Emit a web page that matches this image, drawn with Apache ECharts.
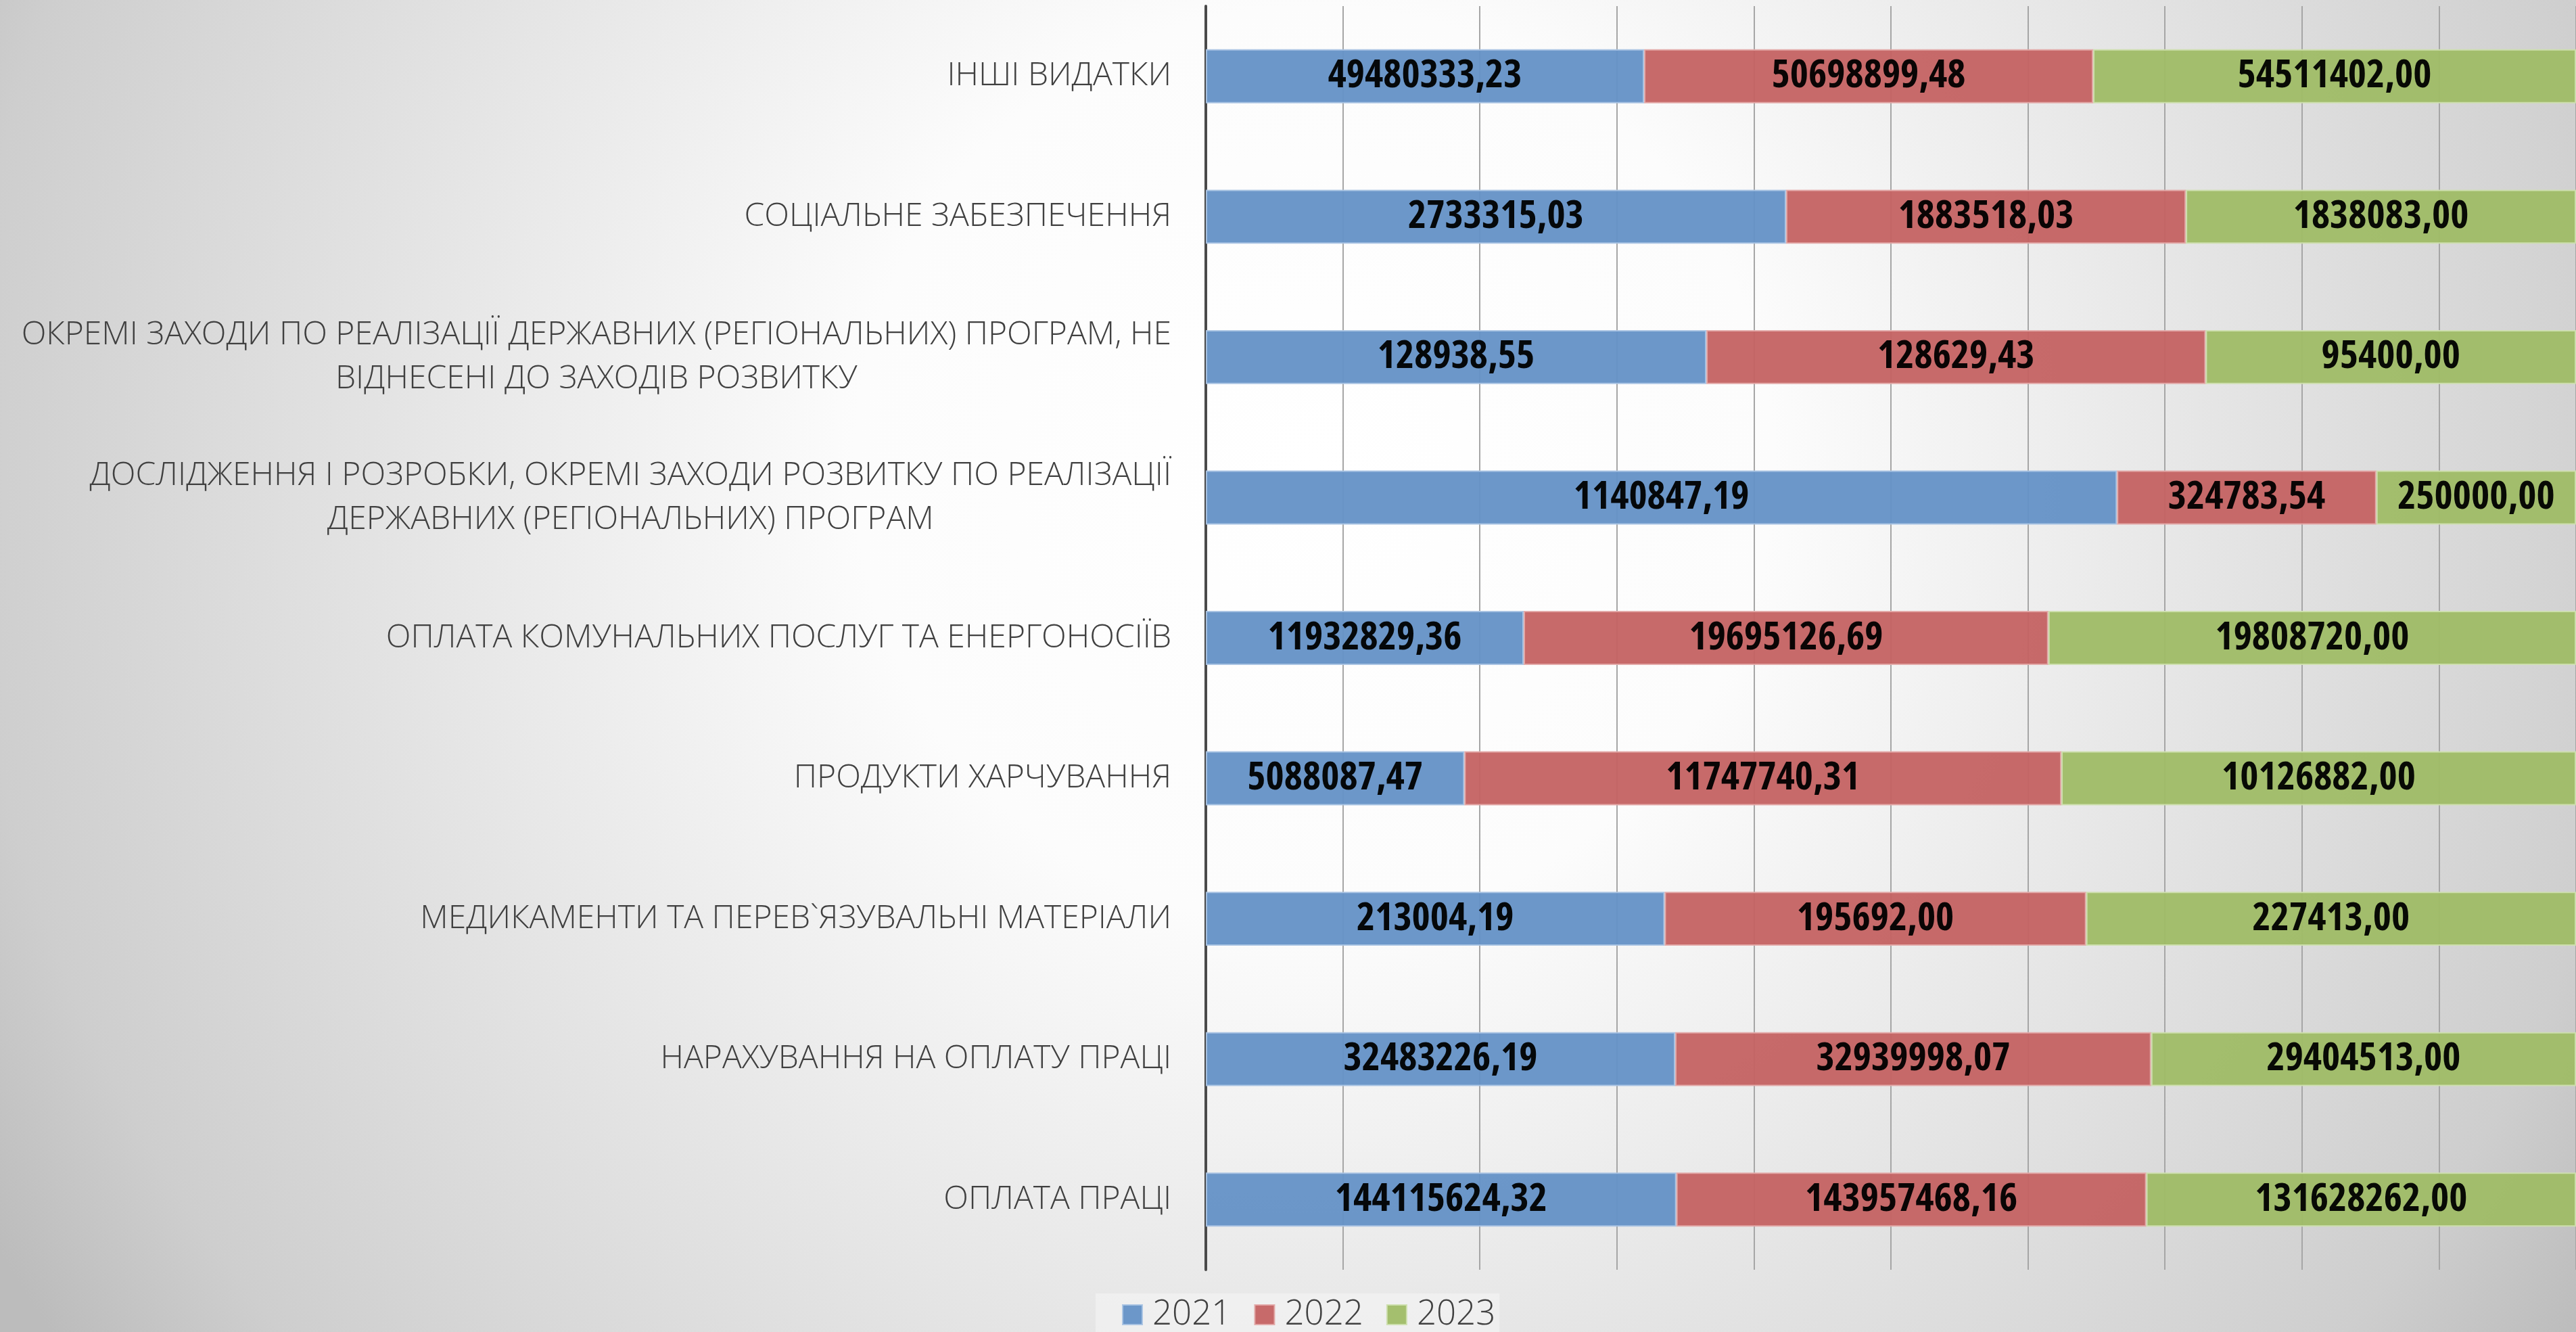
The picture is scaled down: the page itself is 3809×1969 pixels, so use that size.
<!DOCTYPE html>
<html>
<head>
<meta charset="utf-8">
<script src="https://cdn.jsdelivr.net/npm/echarts@6/dist/echarts.min.js"></script>
<style>
html, body { margin: 0; padding: 0; }
#chart { width: 3809px; height: 1969px; }
</style>
</head>
<body>
<div id="chart"></div>
<script>
// категорії згори донизу
var categories = [
	'ІНШІ ВИДАТКИ',
	'СОЦІАЛЬНЕ ЗАБЕЗПЕЧЕННЯ',
	'ОКРЕМІ ЗАХОДИ ПО РЕАЛІЗАЦІЇ ДЕРЖАВНИХ (РЕГІОНАЛЬНИХ) ПРОГРАМ, НЕ\nВІДНЕСЕНІ ДО ЗАХОДІВ РОЗВИТКУ',
	'ДОСЛІДЖЕННЯ І РОЗРОБКИ, ОКРЕМІ ЗАХОДИ РОЗВИТКУ ПО РЕАЛІЗАЦІЇ\nДЕРЖАВНИХ (РЕГІОНАЛЬНИХ) ПРОГРАМ',
	'ОПЛАТА КОМУНАЛЬНИХ ПОСЛУГ ТА ЕНЕРГОНОСІЇВ',
	'ПРОДУКТИ ХАРЧУВАННЯ',
	'МЕДИКАМЕНТИ ТА ПЕРЕВ`ЯЗУВАЛЬНІ МАТЕРІАЛИ',
	'НАРАХУВАННЯ НА ОПЛАТУ ПРАЦІ',
	'ОПЛАТА ПРАЦІ'
];

var years = ['2021', '2022', '2023'];

var values2021 = [49480333.23, 2733315.03, 128938.55, 1140847.19, 11932829.36, 5088087.47, 213004.19, 32483226.19, 144115624.32];
var values2022 = [50698899.48, 1883518.03, 128629.43, 324783.54, 19695126.69, 11747740.31, 195692.00, 32939998.07, 143957468.16];
var values2023 = [54511402.00, 1838083.00, 95400.00, 250000.00, 19808720.00, 10126882.00, 227413.00, 29404513.00, 131628262.00];

var colors = ['#6491c6', '#c46262', '#9fbc66'];
var borders = ['#a9c3e3', '#e3a9a8', '#cddfae'];

var raw = [values2021, values2022, values2023];

// 100% stacked: share of each year in the row
function percents(arr) {
	let out = [];
	for (let i = 0; i < categories.length; i++) {
		let total = values2021[i] + values2022[i] + values2023[i];
		out.push(arr[i] / total * 100);
	}
	return out;
}

function fmt(v) {
	return v.toFixed(2).replace('.', ',');
}

let chartInstance = echarts.init(document.getElementById('chart'));

let series = [];
for (let s = 0; s < years.length; s++) {
	series.push({
		name: years[s],
		type: 'bar',
		stack: 'total',
		barWidth: '38.5%',
		data: percents(raw[s]),
		itemStyle: {
			color: colors[s],
			borderColor: borders[s],
			borderWidth: 2,
			opacity: 0.95
		},
		label: {
			show: true,
			position: 'inside',
			color: '#000000',
			fontFamily: 'Open Sans',
			fontStyle: 'condensed',
			fontWeight: 'bold',
			fontSize: 58,
			formatter: function (p) {
				return fmt(raw[s][p.dataIndex]);
			}
		}
	});
}

let option = {
	animation: false,
	backgroundColor: {
		type: 'radial',
		x: 0.51,
		y: 0.35,
		r: 1.15,
		colorStops: [
			{ offset: 0, color: '#ffffff' },
			{ offset: 0.3, color: '#fcfcfc' },
			{ offset: 0.88, color: '#cecece' },
			{ offset: 1, color: '#bcbcbc' }
		]
	},
	legend: {
		data: years,
		left: 1620,
		top: 1912,
		padding: [6, 6, 6, 39],
		backgroundColor: 'rgba(255,255,255,0.35)',
		itemWidth: 29,
		itemHeight: 29,
		itemGap: 34,
		icon: 'rect',
		textStyle: {
			fontFamily: 'Open Sans',
			fontWeight: 300,
			fontSize: 51,
			color: '#404040',
			padding: [0, 0, 0, 10]
		}
	},
	grid: {
		left: 1783,
		right: 0,
		top: 9,
		bottom: 92,
		containLabel: false,
		outerBoundsMode: 'none'
	},
	xAxis: {
		type: 'value',
		min: 0,
		max: 100,
		interval: 10,
		axisLabel: { show: false },
		axisLine: { show: false },
		axisTick: { show: false },
		splitLine: {
			show: true,
			lineStyle: { color: '#a6a6a6', width: 2 }
		}
	},
	yAxis: {
		type: 'category',
		inverse: true,
		data: categories,
		axisTick: { show: false },
		axisLine: {
			show: true,
			lineStyle: { color: '#4a4a4a', width: 4 }
		},
		axisLabel: {
			margin: 51,
			color: '#404040',
			fontFamily: 'Open Sans',
			fontWeight: 300,
			fontSize: 48,
			lineHeight: 65,
			formatter: function (v) {
				return v.split('\n').map(function (l) { return '{c|' + l + '}'; }).join('\n');
			},
			rich: {
				c: {
					align: 'center',
					color: '#404040',
					fontFamily: 'Open Sans',
					fontWeight: 300,
					fontSize: 48,
					lineHeight: 65
				}
			}
		}
	},
	series: series
};

chartInstance.setOption(option);
</script>
</body>
</html>
